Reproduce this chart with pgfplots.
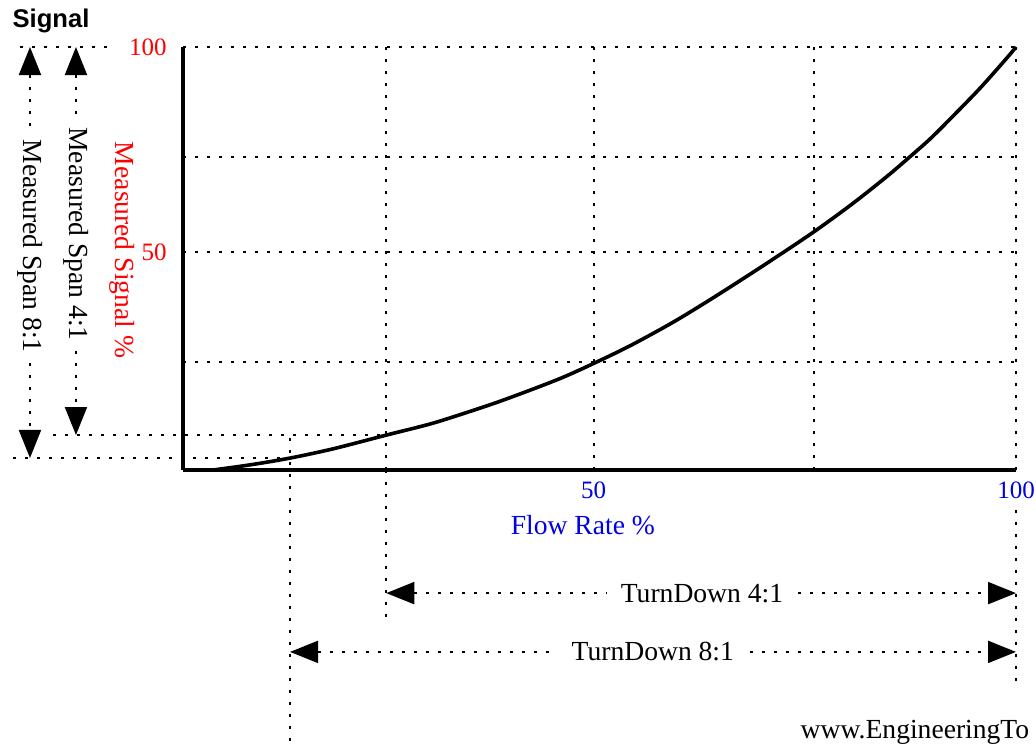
\documentclass[border=0pt]{standalone}
\usepackage{fontspec}
\setmainfont{Liberation Serif}
\newfontfamily\sigfont{Liberation Sans}
\usepackage{pgfplots}
\pgfplotsset{compat=1.18}
\usetikzlibrary{arrows.meta}
\definecolor{lblred}{RGB}{255,0,0}
\definecolor{lblblue}{RGB}{0,0,230}
\newcommand\txt{\fontsize{13.8}{16}\selectfont}
\newcommand\num{\fontsize{12.5}{14}\selectfont}
\begin{document}
\begin{tikzpicture}[
  dots/.style={black, line width=1pt, dash pattern=on 1.5pt off 4.5pt},
  tri/.style={{Triangle[width=11pt,length=14pt]}-{Triangle[width=11pt,length=14pt]}}]
\begin{axis}[
  scale only axis, width=416.5pt, height=211.5pt,
  xmin=0, xmax=100, ymin=0, ymax=100,
  axis x line=bottom, axis y line=left,
  axis line style={-, line width=2pt},
  xtick={24.4,49.3,75.7,100}, xticklabels={,50,,100},
  ytick={25.5,51.5,74,100}, yticklabels={,50,,100},
  major tick length=0pt,
  grid=major,
  grid style={black, line width=1pt, dash pattern=on 1.5pt off 4.5pt},
  xticklabel style={text=lblblue, font=\num, inner sep=0pt, yshift=-5.5pt},
  yticklabel style={text=lblred, font=\num, inner sep=0pt, xshift=-8pt},
  xlabel={Flow Rate \%},
  xlabel style={at={(axis description cs:0.48,-0.13)}, anchor=center, text=lblblue, font=\txt},
  ylabel={Measured Signal \%},
  ylabel style={at={(axis description cs:-0.0732,0.52)}, anchor=center, rotate=180, text=lblred, font=\txt},
  clip=false,
]
\addplot[black, line width=1.8pt, smooth] coordinates {
 (3.6,0) (8,1.2) (12.8,2.8) (18,5.0) (24.5,8.3) (29.7,10.9) (33.6,13.3)
 (37.7,16.0) (41.7,18.9) (45.6,21.9) (49.3,25.2) (53.7,29.4) (58.8,34.9)
 (62.9,39.8) (66.9,44.8) (70.8,49.8) (75.8,56.4) (80.4,63.0) (84.5,69.4)
 (87.0,73.6) (89.7,78.3) (92.4,83.6) (95.7,90.3) (98.9,97.4) (100,100)};

% extra reference lines
\draw[dots] (axis cs:-19.57,100) -- (axis cs:-8.76,100);
\draw[dots] (axis cs:-15.6,8.3) -- (axis cs:23.6,8.3);
\draw[dots] (axis cs:-20.4,2.8) -- (axis cs:11.9,2.8);
\draw[dots] (axis cs:24.4,0) -- (axis cs:24.4,-35);
\draw[dots] (axis cs:12.85,7.6) -- (axis cs:12.85,-64.8);
\draw[dots] (axis cs:100,-9.5) -- (axis cs:100,-50.6);

% measured span arrows
\draw[dots, tri] (axis cs:-18.37,100) -- (axis cs:-18.37,2.84);
\node[rotate=-90, fill=white, inner sep=4pt, font=\txt] at (axis cs:-18.37,52.9) {Measured Span 8:1};
\draw[dots, tri] (axis cs:-12.85,100) -- (axis cs:-12.85,8.27);
\node[rotate=-90, fill=white, inner sep=4pt, font=\txt] at (axis cs:-12.85,55.8) {Measured Span 4:1};

% turndown arrows
\draw[dots, tri] (axis cs:24.4,-29.1) -- (axis cs:100,-29.1);
\node[fill=white, inner xsep=7pt, font=\txt] at (axis cs:62.3,-29.1) {TurnDown 4:1};
\draw[dots, tri] (axis cs:12.85,-43.0) -- (axis cs:100,-43.0);
\node[fill=white, inner xsep=7pt, font=\txt] at (axis cs:56.4,-43.0) {TurnDown 8:1};

\node[anchor=base west, inner sep=0pt, font=\sigfont\bfseries\fontsize{12.8}{14}\selectfont] at (axis cs:-20.5,104.5) {Signal};
\node[anchor=base west, inner sep=0pt, font=\txt] at (axis cs:74.1,-63.4) {www.EngineeringTo};

\coordinate (bbBL) at (axis cs:-21.97,-64.78);
\coordinate (bbTR) at (axis cs:102.40,111.11);
\end{axis}
\pgfresetboundingbox
\useasboundingbox (bbBL) rectangle (bbTR);
\end{tikzpicture}
\end{document}
